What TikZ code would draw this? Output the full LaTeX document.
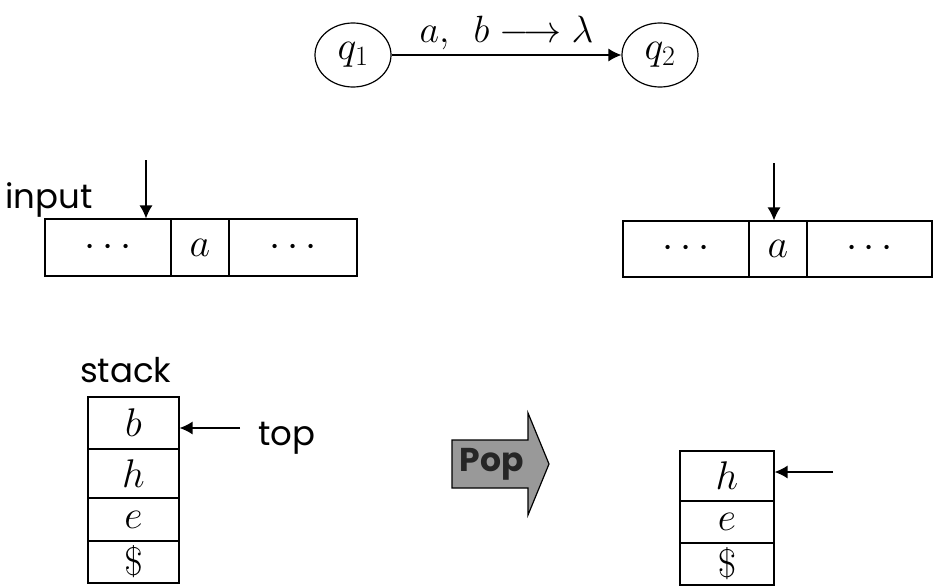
\RequirePackage{fix-cm}
\documentclass[tikz,border=0pt]{standalone}
\usepackage{fontspec}
\newfontfamily\comic{Poppins}
\usetikzlibrary{shapes.geometric,arrows.meta}
\tikzset{
  cell/.style={draw,line width=1.2pt,inner sep=0pt,font=\fontsize{40}{48}\selectfont},
  state/.style={draw,ellipse,line width=1.2pt,minimum width=76pt,minimum height=64pt,inner sep=0pt,font=\fontsize{40}{48}\selectfont},
  arr/.style={line width=1.3pt,-{Latex[length=13pt,width=13pt]}},
  lbl/.style={font=\comic\fontsize{34}{40}\selectfont,inner sep=0pt},
}
\begin{document}
\begin{tikzpicture}[x=1pt,y=-1pt]
\useasboundingbox (0,0) rectangle (940,586);
% states
\node[state] (q1) at (353,55) {$q_1$};
\node[state] (q2) at (660,55) {$q_2$};
\draw[arr] (q1) -- node[above=4pt,font=\fontsize{38}{44}\selectfont,inner sep=0pt] (tl) {$a,\ \,b\longrightarrow\lambda$} (q2);
% left tape
\node[cell,minimum width=126pt,minimum height=57pt] (t1) at (108,247.5) {$\cdots$};
\node[cell,minimum width=58pt,minimum height=57pt] (t2) at (200,247.5) {$a$};
\node[cell,minimum width=128pt,minimum height=57pt] (t3) at (293,247.5) {$\cdots$};
\node[lbl,anchor=base west] (inp) at (5,208) {input};
\coordinate (ia) at (146,160);
\draw[arr] (ia) -- (ia |- t1.north);
% right tape
\node[cell,minimum width=126pt,minimum height=56pt] (r1) at (686,249) {$\cdots$};
\node[cell,minimum width=58pt,minimum height=56pt] (r2) at (778,249) {$a$};
\node[cell,minimum width=125pt,minimum height=56pt] (r3) at (869.5,249) {$\cdots$};
\coordinate (ra) at (774,163);
\draw[arr] (ra) -- (ra |- r2.north);
% left stack
\node[lbl,anchor=base west] (stk) at (80,382) {stack};
\node[cell,minimum width=91pt,minimum height=52pt] (s1) at (133.5,423) {$b$};
\node[cell,minimum width=91pt,minimum height=49pt] (s2) at (133.5,473.5) {$h$};
\node[cell,minimum width=91pt,minimum height=43pt] (s3) at (133.5,519.5) {$e$};
\node[cell,minimum width=91pt,minimum height=42pt] (s4) at (133.5,562) {$\$$};
\coordinate (ta) at (240,428);
\draw[arr] (ta) -- (ta -| s1.east);
\node[lbl,anchor=base west] (top) at (258,445) {top};
% pop arrow
\draw[line width=1.2pt,fill=black!40] (452,440) -- (528,440) -- (528,413) -- (549,464) -- (528,515) -- (528,488) -- (452,488) -- cycle;
\node[font=\comic\bfseries\fontsize{33}{38}\selectfont,text=black!85,inner sep=0pt] (pop) at (492,464) {Pop};
% right stack
\node[cell,minimum width=94pt,minimum height=50pt] (u1) at (727,476) {$h$};
\node[cell,minimum width=94pt,minimum height=42pt] (u2) at (727,522) {$e$};
\node[cell,minimum width=94pt,minimum height=42pt] (u3) at (727,564) {$\$$};
\coordinate (ua) at (833,472);
\draw[arr] (ua) -- (ua -| u1.east);
\end{tikzpicture}
\end{document}
